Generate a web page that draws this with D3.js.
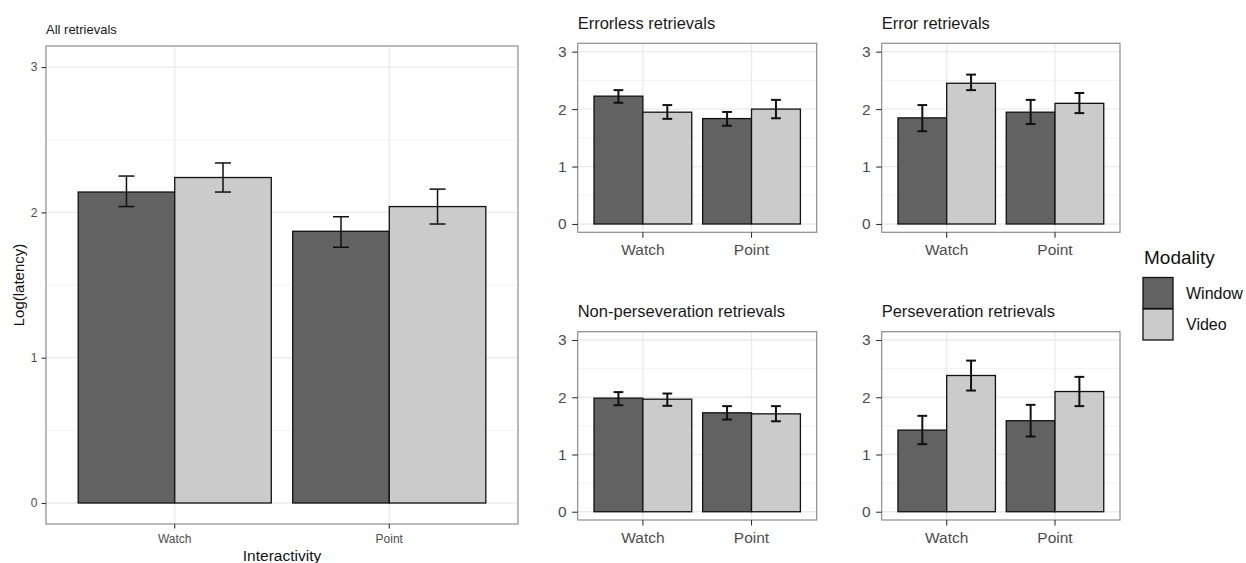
<!DOCTYPE html>
<html>
<head>
<meta charset="utf-8">
<script src="https://cdn.jsdelivr.net/npm/d3@7"></script>
<style>
  body { margin: 0; background: #ffffff; }
  svg { display: block; font-family: "Liberation Sans", Arial, Helvetica, sans-serif; }
</style>
</head>
<body>
<svg id="chart" width="1246" height="563"></svg>
<script>
// Factor levels
const categories = ["Watch", "Point"];
const modalities = ["Window", "Video"];
const panelTitles = [
  "All retrievals",
  "Errorless retrievals",
  "Error retrievals",
  "Non-perseveration retrievals",
  "Perseveration retrievals"
];
const yTicks = [0, 1, 2, 3];

// Mean log latency per panel, [Watch, Point]
const windowMean = [[2.14, 1.87], [2.225, 1.835], [1.847, 1.946], [1.984, 1.728], [1.426, 1.59]];
const videoMean  = [[2.24, 2.04], [1.946, 2.00], [2.45, 2.10], [1.966, 1.71], [2.38, 2.10]];
// Error bar limits per panel, [Watch, Point]
const windowLow  = [[2.04, 1.76], [2.11, 1.71], [1.615, 1.74], [1.86, 1.61], [1.18, 1.314]];
const windowHigh = [[2.25, 1.97], [2.33, 1.95], [2.07, 2.16], [2.09, 1.845], [1.675, 1.867]];
const videoLow   = [[2.14, 1.92], [1.83, 1.84], [2.33, 1.93], [1.85, 1.58], [2.117, 1.845]];
const videoHigh  = [[2.34, 2.16], [2.07, 2.16], [2.60, 2.28], [2.065, 1.845], [2.64, 2.356]];

const fills = { Window: "#626262", Video: "#cbcbcb" };

// Panel boxes and text styling
const layout = [
  { x0: 46,    x1: 518,  y0: 46,    y1: 524, title: 13, tick: 12, tickLen: 4.5, yPad: 4, xPad: 6, capFrac: 0.166, errW: 1.5, titleGap: 12.5 },
  { x0: 577.7, x1: 816.7, y0: 43.3, y1: 232.3, title: 16.5, tick: 15.5, tickLen: 5.5, yPad: 5.5, xPad: 6.5, capFrac: 0.2, errW: 2, titleGap: 14 },
  { x0: 881.7, x1: 1120, y0: 43.3,  y1: 232.3, title: 16.5, tick: 15.5, tickLen: 5.5, yPad: 5.5, xPad: 6.5, capFrac: 0.2, errW: 2, titleGap: 14 },
  { x0: 577.7, x1: 816.7, y0: 331.7, y1: 520, title: 16.5, tick: 15.5, tickLen: 5.5, yPad: 5.5, xPad: 6.5, capFrac: 0.2, errW: 2, titleGap: 15 },
  { x0: 881.7, x1: 1120, y0: 331.7, y1: 520, title: 16.5, tick: 15.5, tickLen: 5.5, yPad: 5.5, xPad: 6.5, capFrac: 0.2, errW: 2, titleGap: 15 }
];

const svg = d3.select("#chart");
svg.append("rect").attr("width", 1246).attr("height", 563).attr("fill", "#fff");

panelTitles.forEach((title, i) => {
  const L = layout[i];
  const g = svg.append("g");

  const y = d3.scaleLinear().domain([-0.1445, 3.145]).range([L.y1, L.y0]);
  const x = d3.scaleBand().domain(categories).range([L.x0, L.x1])
    .paddingInner(0.1).paddingOuter(0.15);
  const xs = d3.scaleBand().domain(modalities).range([0, x.bandwidth()]);

  // grid
  const minor = [0.5, 1.5, 2.5];
  g.selectAll(".minor").data(minor).join("line")
    .attr("x1", L.x0).attr("x2", L.x1)
    .attr("y1", d => y(d)).attr("y2", d => y(d))
    .attr("stroke", "#f3f3f3").attr("stroke-width", 1);
  g.selectAll(".major").data(yTicks).join("line")
    .attr("x1", L.x0).attr("x2", L.x1)
    .attr("y1", d => y(d)).attr("y2", d => y(d))
    .attr("stroke", "#ebebeb").attr("stroke-width", 1.3);
  g.selectAll(".vmajor").data(categories).join("line")
    .attr("x1", d => x(d) + x.bandwidth() / 2).attr("x2", d => x(d) + x.bandwidth() / 2)
    .attr("y1", L.y0).attr("y2", L.y1)
    .attr("stroke", "#ebebeb").attr("stroke-width", 1.3);

  // rows of bar data
  const rows = [];
  categories.forEach((c, ci) => {
    rows.push({ c, m: "Window", v: windowMean[i][ci], lo: windowLow[i][ci], hi: windowHigh[i][ci] });
    rows.push({ c, m: "Video", v: videoMean[i][ci], lo: videoLow[i][ci], hi: videoHigh[i][ci] });
  });

  g.selectAll(".bar").data(rows).join("rect")
    .attr("x", d => x(d.c) + xs(d.m))
    .attr("width", xs.bandwidth())
    .attr("y", d => y(d.v))
    .attr("height", d => y(0) - y(d.v))
    .attr("fill", d => fills[d.m])
    .attr("stroke", "#111").attr("stroke-width", 1.3);

  // error bars
  const cap = xs.bandwidth() * L.capFrac / 2;
  const eb = g.selectAll(".err").data(rows).join("g")
    .attr("stroke", "#111").attr("stroke-width", L.errW).attr("fill", "none");
  eb.append("line")
    .attr("x1", d => x(d.c) + xs(d.m) + xs.bandwidth() / 2)
    .attr("x2", d => x(d.c) + xs(d.m) + xs.bandwidth() / 2)
    .attr("y1", d => y(d.lo)).attr("y2", d => y(d.hi));
  eb.append("line")
    .attr("x1", d => x(d.c) + xs(d.m) + xs.bandwidth() / 2 - cap)
    .attr("x2", d => x(d.c) + xs(d.m) + xs.bandwidth() / 2 + cap)
    .attr("y1", d => y(d.hi)).attr("y2", d => y(d.hi));
  eb.append("line")
    .attr("x1", d => x(d.c) + xs(d.m) + xs.bandwidth() / 2 - cap)
    .attr("x2", d => x(d.c) + xs(d.m) + xs.bandwidth() / 2 + cap)
    .attr("y1", d => y(d.lo)).attr("y2", d => y(d.lo));

  // panel border
  g.append("rect")
    .attr("x", L.x0).attr("y", L.y0)
    .attr("width", L.x1 - L.x0).attr("height", L.y1 - L.y0)
    .attr("fill", "none").attr("stroke", "#8c8c8c").attr("stroke-width", 1.2);

  // axes
  const ya = g.append("g").attr("transform", `translate(${L.x0},0)`)
    .call(d3.axisLeft(y).tickValues(yTicks).tickFormat(d3.format("d"))
      .tickSize(L.tickLen).tickPadding(L.yPad));
  const xa = g.append("g").attr("transform", `translate(0,${L.y1})`)
    .call(d3.axisBottom(x).tickSize(L.tickLen).tickPadding(L.xPad));
  [ya, xa].forEach(a => {
    a.select(".domain").remove();
    a.selectAll(".tick line").attr("stroke", "#333").attr("stroke-width", 1.1);
    a.selectAll(".tick text").attr("fill", "#4d4d4d")
      .style("font-size", L.tick + "px").style("font-family", "Liberation Sans, Arial, sans-serif");
  });

  // panel title
  g.append("text")
    .attr("x", L.x0).attr("y", L.y0 - L.titleGap)
    .attr("fill", "#1a1a1a")
    .style("font-size", L.title + "px")
    .text(title);
});

// axis titles of the overall panel
svg.append("text")
  .attr("transform", "translate(24,285) rotate(-90)")
  .attr("text-anchor", "middle")
  .style("font-size", "15px").attr("fill", "#111")
  .text("Log(latency)");
svg.append("text")
  .attr("x", 282).attr("y", 561)
  .attr("text-anchor", "middle")
  .style("font-size", "15.5px").attr("fill", "#111")
  .text("Interactivity");

// legend
const lg = svg.append("g");
lg.append("text").attr("x", 1144).attr("y", 264)
  .style("font-size", "19px").attr("fill", "#111").text("Modality");
modalities.forEach((m, k) => {
  const top = 277.5 + k * 31.5;
  lg.append("rect").attr("x", 1143).attr("y", top).attr("width", 30).attr("height", 31)
    .attr("fill", fills[m]).attr("stroke", "#111").attr("stroke-width", 1.3);
  lg.append("text").attr("x", 1186).attr("y", top + 15.5)
    .attr("dominant-baseline", "central")
    .style("font-size", "16px").attr("fill", "#111").text(m);
});
</script>
</body>
</html>
